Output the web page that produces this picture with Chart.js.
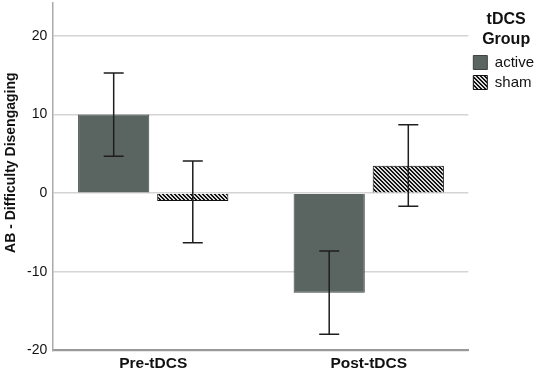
<!DOCTYPE html>
<html>
<head>
<meta charset="utf-8">
<script src="https://cdn.jsdelivr.net/npm/chart.js@4"></script>
<style>
  body { margin: 0; background: #fff; }
  #grafico_wrap { width: 536px; height: 373px; }
</style>
</head>
<body>
<div id="grafico_wrap"><canvas id="grafico_ab"></canvas></div>
<script>
// dados
const categorias = ['Pre-tDCS', 'Post-tDCS'];
const grupos = ['active', 'sham'];
const media_active = [10.0, -12.65];
const media_sham = [-1.0, 3.5];
// barras de erro (limite inferior / superior)
const erro_active_min = [4.7, -17.95];
const erro_active_max = [15.3, -7.35];
const erro_sham_min = [-6.3, -1.65];
const erro_sham_max = [4.1, 8.7];
const ticks_y = [-20, -10, 0, 10, 20];
const titulo_y = 'AB - Difficulty Disengaging';

const fonte = 'Arial, "Liberation Sans", sans-serif';

// hachura diagonal fina do grupo sham
function criarHachura() {
    const c = document.createElement('canvas');
    c.width = 4;
    c.height = 4;
    const g = c.getContext('2d');
    for (let px = 0; px < 4; px++) {
        for (let py = 0; py < 4; py++) {
            const k = ((px - py) % 4 + 4) % 4;
            g.fillStyle = (k < 2) ? '#141414' : '#dcdcdc';
            g.fillRect(px, py, 1, 1);
        }
    }
    return g.createPattern(c, 'repeat');
}

// pontos {x, y} a partir dos arrays (x = indice da categoria)
function pontos(valores) {
    return valores.map((v, i) => ({ x: i, y: v }));
}

const erros = [
    { min: erro_active_min, max: erro_active_max },
    { min: erro_sham_min, max: erro_sham_max }
];

// desenha as barras de erro usando a escala do grafico
const pluginErro = {
    id: 'barrasErro',
    afterDatasetsDraw(chart) {
        const ctx = chart.ctx;
        const y = chart.scales.y;
        ctx.save();
        ctx.strokeStyle = '#1e1e1e';
        ctx.lineWidth = 1.5;
        chart.data.datasets.forEach((ds, i) => {
            const meta = chart.getDatasetMeta(i);
            meta.data.forEach((bar, j) => {
                const y1 = y.getPixelForValue(erros[i].min[j]);
                const y2 = y.getPixelForValue(erros[i].max[j]);
                ctx.beginPath();
                ctx.moveTo(bar.x, y1); ctx.lineTo(bar.x, y2);
                ctx.moveTo(bar.x - 10, y1); ctx.lineTo(bar.x + 10, y1);
                ctx.moveTo(bar.x - 10, y2); ctx.lineTo(bar.x + 10, y2);
                ctx.stroke();
            });
        });
        ctx.restore();
    }
};

// titulo do eixo y (um pouco acima do centro, como no original)
const pluginTituloY = {
    id: 'tituloY',
    afterDraw(chart) {
        const ctx = chart.ctx;
        const area = chart.chartArea;
        ctx.save();
        ctx.translate(11, (area.top + area.bottom) / 2 - 14);
        ctx.rotate(-Math.PI / 2);
        ctx.font = 'bold 14px ' + fonte;
        ctx.fillStyle = '#111';
        ctx.textAlign = 'center';
        ctx.textBaseline = 'middle';
        ctx.fillText(titulo_y, 0, 0);
        ctx.restore();
    }
};

const data_ab = {
    datasets: [{
        label: grupos[0],
        data: pontos(media_active),
        backgroundColor: '#5a6460',
        borderColor: '#3d4542',
        borderWidth: 1
    },
    {
        label: grupos[1],
        data: pontos(media_sham),
        backgroundColor: criarHachura(),
        borderColor: '#111111',
        borderWidth: 1
    }]
};

const config_ab = {
    type: 'bar',
    data: data_ab,
    options: {
        responsive: false,
        animation: false,
        barPercentage: 0.9,
        categoryPercentage: 0.734,
        layout: { padding: { top: 3, right: -8, left: 21, bottom: -4 } },
        plugins: {
            tooltip: { enabled: false },
            legend: {
                position: 'right',
                align: 'start',
                title: {
                    display: true,
                    text: ['tDCS', 'Group'],
                    color: '#111',
                    font: { family: fonte, size: 16, weight: 'bold', lineHeight: 1.25 },
                    padding: { top: 9, bottom: 18 }
                },
                labels: {
                    boxWidth: 14,
                    boxHeight: 14,
                    padding: 5,
                    color: '#111',
                    font: { family: fonte, size: 15 }
                }
            }
        },
        scales: {
            x: {
                type: 'linear',
                offset: false,
                min: -0.464,
                max: 1.462,
                afterBuildTicks: (scale) => {
                    scale.ticks = categorias.map((c, i) => ({ value: i }));
                },
                grid: { display: false, drawTicks: false, offset: false },
                border: { display: true, color: '#999', width: 2 },
                ticks: {
                    color: '#111',
                    padding: 4,
                    callback: (v) => categorias[v],
                    font: { family: fonte, size: 15.5, weight: 'bold' }
                }
            },
            y: {
                min: -20,
                max: 24.2,
                afterBuildTicks: (scale) => {
                    scale.ticks = ticks_y.map(v => ({ value: v }));
                },
                afterFit: (scale) => {
                    scale.paddingTop = 0;
                    scale.paddingBottom = 0;
                },
                grid: { color: '#d4d4d4', lineWidth: 1.5, drawTicks: false },
                border: { display: true, color: '#aaa', width: 1.5 },
                ticks: {
                    color: '#111',
                    padding: 6,
                    font: { family: fonte, size: 14 }
                }
            }
        }
    },
    plugins: [pluginErro, pluginTituloY]
};

const canvas_ab = document.getElementById('grafico_ab');
canvas_ab.width = 536;
canvas_ab.height = 373;
const grafico_ab = new Chart(canvas_ab, config_ab);
</script>
</body>
</html>
